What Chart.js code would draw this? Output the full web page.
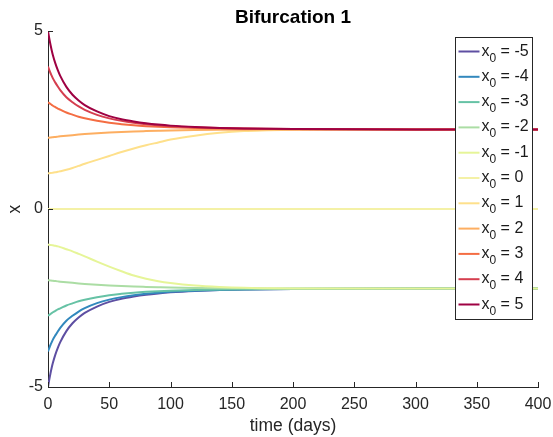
<!DOCTYPE html>
<html>
<head>
<meta charset="utf-8">
<script src="https://cdn.jsdelivr.net/npm/chart.js@4.4.0/dist/chart.umd.min.js"></script>
<style>
  body { margin: 0; background: #fff; }
  #wrap { width: 553px; height: 437px; }
</style>
</head>
<body>
<div id="wrap"><canvas id="bifChart" width="553" height="437"></canvas></div>
<script>
// 時間 (days)
const times = [0, 1, 2, 3, 4, 6, 8, 10, 15, 20, 25, 30, 40, 50, 60, 70, 80, 90, 100, 120, 140, 160, 180, 200, 250, 300, 350, 400];

// 初期値と色 (Spectral)
const x0Values = [-5, -4, -3, -2, -1, 0, 1, 2, 3, 4, 5];
const lineColors = ['#5e4fa2', '#3288bd', '#66c2a5', '#abdda4', '#e6f598', '#f4f1a6', '#fee08b', '#fdae61', '#f46d43', '#d53e4f', '#9e0142'];

// 軸の目盛り
const xTickValues = [0, 50, 100, 150, 200, 250, 300, 350, 400];
const yTickValues = [-5, 0, 5];

// 各初期値の軌道
const xNeg5 = [-5.00, -4.80, -4.62, -4.46, -4.32, -4.09, -3.90, -3.74, -3.43, -3.21, -3.05, -2.92, -2.74, -2.61, -2.52, -2.457, -2.408, -2.371, -2.342, -2.303, -2.278, -2.263, -2.253, -2.247, -2.238, -2.236, -2.236, -2.236];
const xNeg4 = [-4.00, -3.91, -3.82, -3.745, -3.67, -3.55, -3.44, -3.34, -3.14, -3.00, -2.88, -2.785, -2.645, -2.546, -2.475, -2.422, -2.381, -2.350, -2.326, -2.293, -2.272, -2.259, -2.251, -2.246, -2.238, -2.236, -2.236, -2.236];
const xNeg3 = [-3.00, -2.974, -2.95, -2.926, -2.90, -2.86, -2.82, -2.79, -2.71, -2.65, -2.593, -2.548, -2.476, -2.42, -2.382, -2.351, -2.327, -2.308, -2.293, -2.272, -2.259, -2.251, -2.246, -2.242, -2.237, -2.236, -2.236, -2.236];
const xNeg2 = [-2.00, -2.004, -2.009, -2.013, -2.017, -2.025, -2.033, -2.041, -2.059, -2.075, -2.090, -2.104, -2.128, -2.148, -2.165, -2.179, -2.189, -2.198, -2.206, -2.216, -2.223, -2.228, -2.231, -2.233, -2.235, -2.236, -2.236, -2.236];
const xNeg1 = [-1.00, -1.005, -1.01, -1.015, -1.02, -1.035, -1.05, -1.07, -1.13, -1.19, -1.26, -1.33, -1.48, -1.62, -1.75, -1.87, -1.96, -2.03, -2.08, -2.15, -2.19, -2.215, -2.225, -2.232, -2.236, -2.236, -2.236, -2.236];
const xZero = [0, 0, 0, 0, 0, 0, 0, 0, 0, 0, 0, 0, 0, 0, 0, 0, 0, 0, 0, 0, 0, 0, 0, 0, 0, 0, 0, 0];
const xPos1 = [1.00, 1.005, 1.01, 1.015, 1.02, 1.03, 1.045, 1.06, 1.10, 1.15, 1.21, 1.27, 1.38, 1.49, 1.60, 1.70, 1.79, 1.87, 1.95, 2.06, 2.14, 2.19, 2.21, 2.225, 2.235, 2.236, 2.236, 2.236];
const xPos2 = [2.00, 2.004, 2.009, 2.013, 2.017, 2.025, 2.033, 2.041, 2.059, 2.075, 2.090, 2.104, 2.128, 2.148, 2.165, 2.179, 2.189, 2.198, 2.206, 2.216, 2.223, 2.228, 2.231, 2.233, 2.235, 2.236, 2.236, 2.236];
const xPos3 = [3.00, 2.974, 2.95, 2.926, 2.90, 2.86, 2.82, 2.79, 2.71, 2.65, 2.593, 2.548, 2.476, 2.42, 2.382, 2.351, 2.327, 2.308, 2.293, 2.272, 2.259, 2.251, 2.246, 2.242, 2.237, 2.236, 2.236, 2.236];
const xPos4 = [4.00, 3.91, 3.82, 3.745, 3.67, 3.55, 3.44, 3.34, 3.14, 3.00, 2.88, 2.785, 2.645, 2.546, 2.475, 2.422, 2.381, 2.350, 2.326, 2.293, 2.272, 2.259, 2.251, 2.246, 2.238, 2.236, 2.236, 2.236];
const xPos5 = [5.00, 4.80, 4.62, 4.46, 4.32, 4.09, 3.90, 3.74, 3.43, 3.21, 3.05, 2.92, 2.74, 2.61, 2.52, 2.457, 2.408, 2.371, 2.342, 2.303, 2.278, 2.263, 2.253, 2.247, 2.238, 2.236, 2.236, 2.236];

const allSeries = [xNeg5, xNeg4, xNeg3, xNeg2, xNeg1, xZero, xPos1, xPos2, xPos3, xPos4, xPos5];

const FONT = '"Liberation Sans", Arial, Helvetica, sans-serif';
const AXIS_COLOR = '#262626';
const TITLE = 'Bifurcation 1';

const datasets = allSeries.map((vals, i) => ({
  label: 'x0 = ' + x0Values[i],
  data: vals.map((v, k) => ({ x: times[k], y: v })),
  borderColor: lineColors[i],
  backgroundColor: lineColors[i],
  borderWidth: 2,
  pointRadius: 0,
  fill: false,
  cubicInterpolationMode: 'monotone',
  order: allSeries.length - i // 後の系列を上に描く
}));

// 内向きの目盛り・タイトル・凡例を描くプラグイン
const matlabStyle = {
  id: 'matlabStyle',
  afterDatasetsDraw(chart) {
    const { ctx, chartArea: a, scales: { x, y } } = chart;
    ctx.save();
    ctx.strokeStyle = AXIS_COLOR;
    ctx.lineWidth = 1;
    ctx.beginPath();
    xTickValues.forEach(v => {
      const px = Math.round(x.getPixelForValue(v)) + 0.5;
      ctx.moveTo(px, a.bottom);
      ctx.lineTo(px, a.bottom - 5);
    });
    yTickValues.forEach(v => {
      const py = Math.round(y.getPixelForValue(v)) + 0.5;
      ctx.moveTo(a.left, py);
      ctx.lineTo(a.left + 5, py);
    });
    ctx.stroke();

    // タイトル (プロット領域の中央)
    ctx.fillStyle = '#000';
    ctx.font = 'bold 19px ' + FONT;
    ctx.textAlign = 'center';
    ctx.textBaseline = 'middle';
    ctx.fillText(TITLE, (a.left + a.right) / 2, 17.5);

    // 凡例
    const boxW = 77, boxH = 282;
    const boxL = Math.round(a.right - 6 - boxW) + 0.5;
    const boxT = Math.round(a.top + 6) + 0.5;
    ctx.fillStyle = '#fff';
    ctx.fillRect(boxL, boxT, boxW, boxH);
    ctx.strokeStyle = AXIS_COLOR;
    ctx.lineWidth = 1;
    ctx.strokeRect(boxL, boxT, boxW, boxH);

    const step = 25.3;
    x0Values.forEach((v, i) => {
      const ly = boxT + 14 + step * i;
      ctx.strokeStyle = lineColors[i];
      ctx.lineWidth = 2;
      ctx.beginPath();
      ctx.moveTo(boxL + 3, ly);
      ctx.lineTo(boxL + 24, ly);
      ctx.stroke();

      ctx.fillStyle = '#1a1a1a';
      ctx.textBaseline = 'alphabetic';
      ctx.textAlign = 'left';
      let tx = boxL + 26;
      ctx.font = '16px ' + FONT;
      ctx.fillText('x', tx, ly + 4);
      tx += ctx.measureText('x').width;
      ctx.font = '12px ' + FONT;
      ctx.fillText('0', tx, ly + 10);
      tx += ctx.measureText('0').width;
      ctx.font = '16px ' + FONT;
      ctx.fillText(' = ' + v, tx, ly + 4);
    });
    ctx.restore();
  }
};

const ctx = document.getElementById('bifChart').getContext('2d');
const bifChart = new Chart(ctx, {
  type: 'line',
  data: { datasets },
  options: {
    responsive: false,
    animation: false,
    layout: { padding: { left: 0, right: 15, top: 31, bottom: 0 } },
    plugins: {
      legend: { display: false },
      tooltip: { enabled: false },
      title: { display: false }
    },
    scales: {
      x: {
        type: 'linear',
        min: 0,
        max: 400,
        afterFit: s => { s.height = 50; s.paddingLeft = 0; s.paddingRight = 0; },
        grid: { drawOnChartArea: false, drawTicks: false },
        border: { color: AXIS_COLOR, width: 1 },
        ticks: {
          stepSize: 50,
          padding: 8,
          color: AXIS_COLOR,
          maxRotation: 0,
          font: { family: FONT, size: 16 }
        },
        title: {
          display: true,
          text: 'time (days)',
          color: AXIS_COLOR,
          font: { family: FONT, size: 17.5 },
          padding: { top: 0, bottom: 0 }
        }
      },
      y: {
        min: -5,
        max: 5,
        afterFit: s => { s.width = 48; s.paddingTop = 0; s.paddingBottom = 0; },
        grid: { drawOnChartArea: false, drawTicks: false },
        border: { color: AXIS_COLOR, width: 1 },
        ticks: {
          stepSize: 5,
          padding: 5,
          color: AXIS_COLOR,
          font: { family: FONT, size: 16 }
        },
        title: {
          display: true,
          text: 'x',
          color: AXIS_COLOR,
          font: { family: FONT, size: 17.5 },
          padding: { top: 5, bottom: 0 }
        }
      }
    }
  },
  plugins: [matlabStyle]
});
</script>
</body>
</html>
